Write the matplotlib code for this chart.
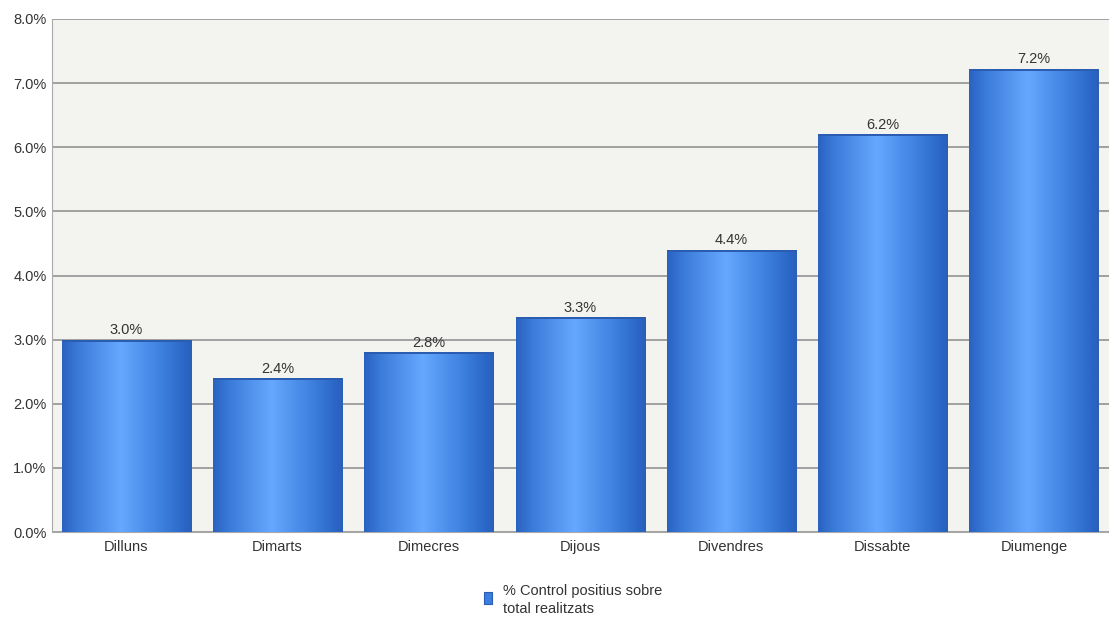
import matplotlib.pyplot as plt
import numpy as np
from matplotlib.colors import LinearSegmentedColormap
from matplotlib.patches import Rectangle

days = ['Dilluns', 'Dimarts', 'Dimecres', 'Dijous', 'Divendres', 'Dissabte', 'Diumenge']
values = [3.0, 2.4, 2.8, 3.35, 4.4, 6.2, 7.22]
labels = ['3.0%', '2.4%', '2.8%', '3.3%', '4.4%', '6.2%', '7.2%']
yticks = [0, 1, 2, 3, 4, 5, 6, 7, 8]
legend_label = '% Control positius sobre\ntotal realitzats'

plt.rcParams['font.family'] = ['Liberation Sans', 'DejaVu Sans']
text_col = '#333333'
fs = 10.5

fig = plt.figure(figsize=(11.09, 6.17), dpi=100)
ax = fig.add_axes([52 / 1109, 85 / 617, 1057 / 1109, 513 / 617])
ax.set_facecolor('#f3f3ef')

x = np.arange(len(days))
bars = ax.bar(x, values, width=0.853, color='#3a7ee0', zorder=3)

# horizontal gradient fill for each bar
cmap = LinearSegmentedColormap.from_list('bar', [
    (0.0, '#2a62c0'), (0.12, '#3a7ad8'), (0.45, '#66a8ff'),
    (0.75, '#3f82e0'), (0.95, '#2a66c6'), (1.0, '#2a5fb8')])
grad = np.linspace(0, 1, 256).reshape(1, -1)
for b in bars:
    x0, w, h = b.get_x(), b.get_width(), b.get_height()
    im = ax.imshow(grad, cmap=cmap, aspect='auto', extent=[x0, x0 + w, 0, h],
                   zorder=4, interpolation='bilinear')
    im.set_clip_path(b)
    ax.add_patch(Rectangle((x0, h - 0.03), w, 0.03, color='#2a5cb0', zorder=5, lw=0))

for xi, v, lab in zip(x, values, labels):
    ax.text(xi, v + 0.04, lab, ha='center', va='bottom', fontsize=fs, color=text_col, zorder=6)

ax.set_xlim(-0.49, 6.496)
ax.set_ylim(0, 8)
ax.set_yticks(yticks)
ax.set_yticklabels(['%.1f%%' % t for t in yticks], fontsize=fs, color=text_col)
ax.set_xticks(x)
ax.set_xticklabels(days, fontsize=fs, color=text_col)
ax.tick_params(axis='y', length=0, pad=4)
ax.tick_params(axis='x', length=0, pad=6)
ax.yaxis.grid(True, color='#9a9a9a', lw=1.3, zorder=1)
ax.set_axisbelow(True)
for s in ['top', 'right']:
    ax.spines[s].set_visible(False)
ax.spines['left'].set_color('#aaaaaa')
ax.spines['bottom'].set_color('#aaaaaa')

# legend
fig.patches.append(Rectangle((484 / 1109, 1 - 604 / 617), 8 / 1109, 12 / 617,
                             transform=fig.transFigure, facecolor='#3a7ee0',
                             edgecolor='#2a5cb0', lw=0.8))
fig.text(503 / 1109, 1 - 600 / 617, legend_label, fontsize=fs, color=text_col,
         va='center', ha='left', linespacing=1.35)

fig.savefig('out.png', dpi=100)
